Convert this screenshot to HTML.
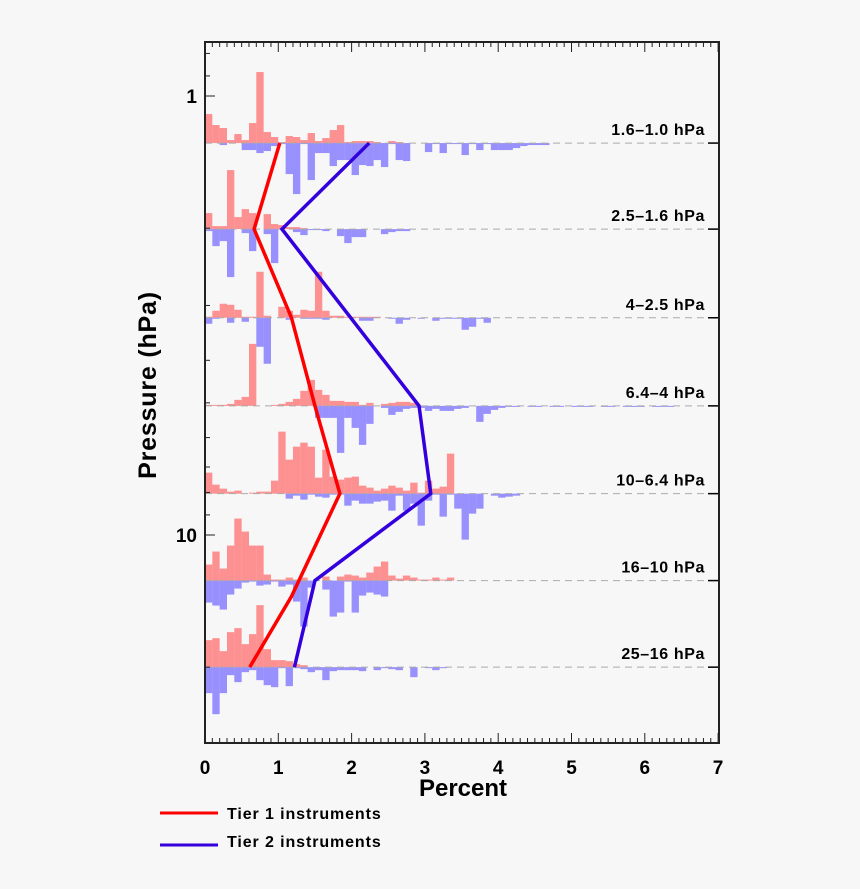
<!DOCTYPE html>
<html><head><meta charset="utf-8"><style>
html,body{margin:0;padding:0;background:#f7f7f7;}
svg{display:block;font-family:"Liberation Sans",Arial,sans-serif;}
</style></head><body>
<svg id="chart" width="860" height="889" viewBox="0 0 860 889" xmlns="http://www.w3.org/2000/svg">
<rect x="0" y="0" width="860" height="889" fill="#f7f7f7"/>
<g id="bars"></g>
<g id="baselines"></g>
<g id="lines"></g>
<g id="axes"></g>
<g id="labels"></g>
<text x="463" y="796" text-anchor="middle" font-size="24" font-weight="bold">Percent</text>
<text transform="translate(156,385) rotate(-90)" text-anchor="middle" font-size="25" font-weight="bold" letter-spacing="0.8">Pressure (hPa)</text>
<g>
<line x1="160" y1="813" x2="218" y2="813" stroke="#ff0000" stroke-width="3"/>
<text x="227" y="819" font-size="16" font-weight="bold" letter-spacing="0.9">Tier 1 instruments</text>
<line x1="160" y1="845" x2="218" y2="845" stroke="#3300dd" stroke-width="3"/>
<text x="227" y="847" font-size="16" font-weight="bold" letter-spacing="0.9">Tier 2 instruments</text>
</g>
</svg>
<script>
const levelLabels = ["1.6–1.0 hPa","2.5–1.6 hPa","4–2.5 hPa","6.4–4 hPa","10–6.4 hPa","16–10 hPa","25–16 hPa"];
const levelPressures = [1.28, 2.01, 3.2, 5.08, 8.05, 12.7, 20];
const redHist = [
 [29,18,15,3,9,3,20,71,11,6,1,7,6,3,10,2,5,13,18,1,2,2,2,1,0,2,1],
 [16,3,3,59,12,20,16,0,15,5,4,2,2,1],
 [1,7,14,13,8,1,1,46,2,0,11,7,3,8,7,46,7,2,2,1,1,1,1,1],
 [1,1,1,2,6,9,62,0,0,1,2,4,7,15,26,16,11,5,5,4,4,1,3,0,2,3,4,4,3],
 [21,9,5,2,3,0,1,2,2,13,62,34,47,51,47,16,44,17,14,16,17,8,6,3,5,8,6,3,11,1,13,5,7,40],
 [16,29,12,35,62,49,35,35,6,1,1,3,1,3,0,0,4,0,4,6,5,3,8,14,19,5,2,5,3,1,1,3,1,3],
 [27,29,16,35,39,23,33,62,18,7,7,6,3,2]
];
const blueHist = [
 [0,0,2,0,0,7,7,10,8,3,1,31,51,1,37,10,10,23,17,17,32,22,23,17,24,1,17,18,0,0,9,1,10,1,1,12,1,7,1,7,7,7,5,3,2,2,2],
 [2,17,12,48,0,4,22,0,5,34,0,0,3,6,1,1,2,0,7,14,8,8,0,0,5,3,2,2],
 [6,1,0,5,0,4,0,29,46,0,0,2,0,1,1,1,2,0,0,0,0,3,3,0,0,1,6,2,0,1,0,3,1,1,1,12,9,1,5],
 [0,0,0,0,0,0,0,0,0,0,0,0,0,0,0,12,12,12,47,12,22,39,18,0,2,9,6,3,2,2,5,3,5,5,3,2,0,16,8,4,2,1,1,0,1,1,0,1,1,0,1,1,1,0,1,1,0,1,1,1,0,1,1,1],
 [0,0,0,0,0,0,0,0,0,0,0,5,2,6,1,3,4,1,1,12,7,10,10,8,7,17,2,17,10,32,7,1,23,1,15,46,20,15,0,2,4,3,2],
 [22,25,29,14,8,2,1,5,4,1,6,4,21,46,7,0,9,36,32,1,32,15,12,14,16],
 [26,47,26,8,15,5,3,13,18,20,1,19,1,2,5,3,13,4,3,3,3,4,0,3,1,2,3,0,10,0,1,3,1]
];
const redLineP = [1.28, 2.01, 3.2, 5.08, 8.05, 13.8, 20];
const redLineX = [1.02, 0.67, 1.18, 1.5, 1.84, 1.18, 0.61];
const blueLineP = [1.28, 2.01, 5.08, 8.05, 12.7, 20];
const blueLineX = [2.24, 1.05, 2.92, 3.08, 1.5, 1.22];
const xTicks = [0,1,2,3,4,5,6,7];
const yTickLabels = [1, 10];
const yMinorTicks = [0.8,0.9,2,3,4,5,6,7,8,9,20];

const NS="http://www.w3.org/2000/svg";
const L=205,R=719,T=42,B=743;
const binW=0.1;
function xs(v){return L+v*73.3;}
function ys(p){return 96+439*Math.log10(p);}
function mk(tag,attrs,parent){const e=document.createElementNS(NS,tag);for(const k in attrs)e.setAttribute(k,attrs[k]);parent.appendChild(e);return e;}
const gBars=document.getElementById('bars'),gBase=document.getElementById('baselines'),gLines=document.getElementById('lines'),gAx=document.getElementById('axes'),gLab=document.getElementById('labels');

levelPressures.forEach((p,i)=>{
  const y0=ys(p);
  redHist[i].forEach((h,k)=>{
    if(h<=0)return;
    const r=mk('rect',{x:xs(k*binW),y:y0-h,width:xs(binW)-xs(0),height:h,fill:'rgba(255,100,100,0.7)'},gBars);
    
    
  });
  blueHist[i].forEach((h,k)=>{
    if(h<=0)return;
    const r=mk('rect',{x:xs(k*binW),y:y0,width:xs(binW)-xs(0),height:h,fill:'rgba(110,100,255,0.7)'},gBars);
    
    
  });
  const ln=mk('line',{x1:L,y1:y0,x2:R,y2:y0,stroke:'#aaaaaa','stroke-width':1,'stroke-dasharray':'7,5'},gBase);
  
  
  const tk=mk('line',{x1:R-11,y1:y0,x2:R,y2:y0,stroke:'#000','stroke-width':1.5},gAx);
  
  
  const t=mk('text',{x:705,y:y0-8,'text-anchor':'end','font-size':16,'font-weight':'bold','letter-spacing':0.6},gLab);
  t.textContent=levelLabels[i];
  
  
});

function poly(P,X,color,name){
  const pts=P.map((p,i)=>xs(X[i])+','+ys(p)).join(' ');
  const pl=mk('polyline',{points:pts,fill:'none',stroke:color,'stroke-width':3.5,'stroke-linejoin':'miter'},gLines);
  
  
}
poly(redLineP,redLineX,'#ff0000','tier1-line');
poly(blueLineP,blueLineX,'#3300dd','tier2-line');

const frame=mk('rect',{x:L,y:T,width:R-L,height:B-T,fill:'none',stroke:'#222','stroke-width':2},gAx);


for(let k=0;k<=70;k++){
  const x=xs(k*binW);const len=(k%10===0)?10:5;
  mk('line',{x1:x,y1:B,x2:x,y2:B-len,stroke:'#222','stroke-width':1},gAx);
  mk('line',{x1:x,y1:T,x2:x,y2:T+len,stroke:'#222','stroke-width':1},gAx);
}
xTicks.forEach(v=>{
  const t=mk('text',{x:xs(v),y:774,'text-anchor':'middle','font-size':19,'font-weight':'bold'},gAx);
  t.textContent=v;
  
  
});
yMinorTicks.forEach(p=>{
  mk('line',{x1:L,y1:ys(p),x2:L+5,y2:ys(p),stroke:'#222','stroke-width':1},gAx);
});
yTickLabels.forEach(p=>{
  mk('line',{x1:L,y1:ys(p),x2:L+10,y2:ys(p),stroke:'#222','stroke-width':1},gAx);
  const t=mk('text',{x:197,y:ys(p)+7,'text-anchor':'end','font-size':19,'font-weight':'bold'},gAx);
  t.textContent=p;
  
  
});
</script>
</body></html>
